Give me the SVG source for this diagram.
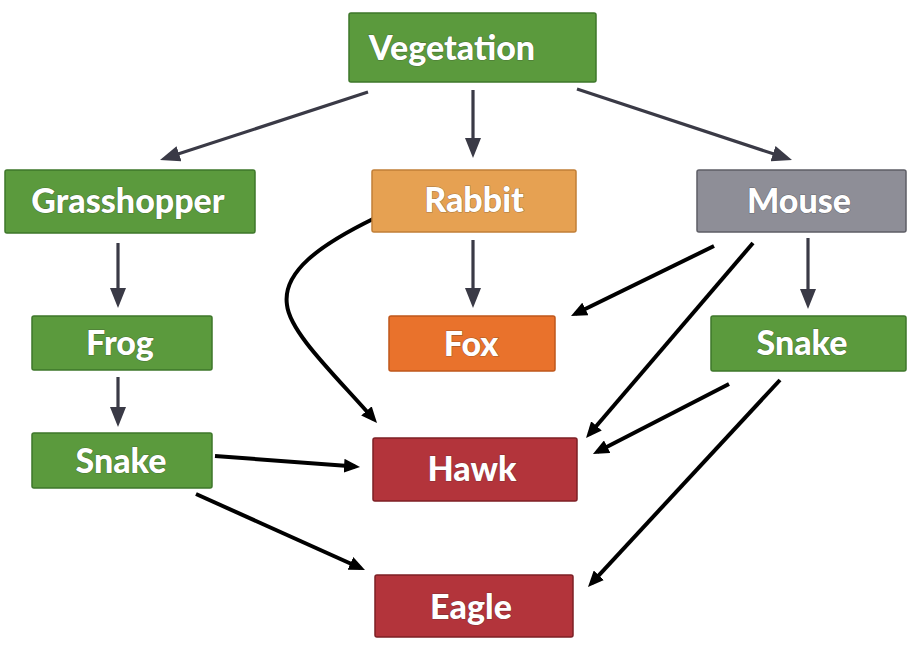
<svg xmlns="http://www.w3.org/2000/svg" width="919" height="653" viewBox="0 0 919 653">
<defs>
<style>
.box{stroke-width:1.5}
.green{fill:#5b9a3d;stroke:#3e772a}
.orange{fill:#e6a152;stroke:#c17f37}
.gray{fill:#8e8e97;stroke:#5e5e66}
.fox{fill:#e9722c;stroke:#bf571b}
.red{fill:#b3343b;stroke:#7d1f25}
.lbl{font-family:Lato,"Open Sans","DejaVu Sans",sans-serif;font-weight:900;font-size:34px;fill:#ffffff;text-anchor:middle;stroke:rgba(40,40,40,0.35);stroke-width:1.2px;paint-order:stroke}
.ga{fill:none;stroke:#3a3a46;stroke-width:3.2;marker-end:url(#gh)}
.ba{fill:none;stroke:#000000;stroke-width:4;marker-end:url(#bh)}
</style>
<marker id="gh" markerUnits="userSpaceOnUse" viewBox="0 0 20 16" markerWidth="20" markerHeight="16" refX="14" refY="8" orient="auto">
<path d="M0,0 L20,8 L0,16 z" fill="#3a3a46"/>
</marker>
<marker id="bh" markerUnits="userSpaceOnUse" viewBox="0 0 16 14" markerWidth="16" markerHeight="14" refX="11" refY="7" orient="auto">
<path d="M0,0 L16,7 L0,14 z" fill="#000000"/>
</marker>
</defs>
<rect width="919" height="653" fill="#ffffff"/>
<g id="connectors">
<line class="ga" x1="368" y1="92" x2="165.7" y2="158.1"/>
<line class="ga" x1="473" y1="90" x2="473" y2="152"/>
<line class="ga" x1="577" y1="89" x2="786.3" y2="158.1"/>
<line class="ga" x1="118" y1="243" x2="118" y2="302"/>
<line class="ga" x1="118" y1="377" x2="118" y2="421"/>
<line class="ga" x1="473" y1="240" x2="473" y2="302"/>
<line class="ga" x1="808" y1="238" x2="808" y2="303"/>
<path class="ba" d="M373,219 C320,245 282,272 287,305 C290,333 336,376 373.7,419.2"/>
<line class="ba" x1="714" y1="246" x2="575.5" y2="313.8"/>
<line class="ba" x1="753" y1="243" x2="589.3" y2="434.2"/>
<line class="ba" x1="729" y1="384" x2="597.4" y2="451.7"/>
<line class="ba" x1="780" y1="380" x2="591.4" y2="583.3"/>
<line class="ba" x1="215" y1="456" x2="355" y2="466.6"/>
<line class="ba" x1="196" y1="494" x2="360.4" y2="568"/>
</g>
<g id="vegetation"><rect class="box green" x="349" y="13" width="247" height="69" rx="2"/><text class="lbl" x="452" y="60">Vegetation</text></g>
<g id="grasshopper"><rect class="box green" x="5" y="170" width="250" height="63" rx="2"/><text class="lbl" x="128" y="213">Grasshopper</text></g>
<g id="rabbit"><rect class="box orange" x="372" y="170" width="204" height="62" rx="2"/><text class="lbl" x="474" y="212">Rabbit</text></g>
<g id="mouse"><rect class="box gray" x="697" y="170" width="209" height="62" rx="2"/><text class="lbl" x="799" y="213">Mouse</text></g>
<g id="frog"><rect class="box green" x="32" y="316" width="180" height="54" rx="2"/><text class="lbl" x="120" y="355">Frog</text></g>
<g id="fox"><rect class="box fox" x="389" y="316" width="166" height="55" rx="2"/><text class="lbl" x="471" y="356">Fox</text></g>
<g id="snake-right"><rect class="box green" x="711" y="316" width="195" height="55" rx="2"/><text class="lbl" x="802" y="355">Snake</text></g>
<g id="snake-left"><rect class="box green" x="32" y="433" width="180" height="55" rx="2"/><text class="lbl" x="121" y="473">Snake</text></g>
<g id="hawk"><rect class="box red" x="373" y="438" width="204" height="63" rx="2"/><text class="lbl" x="472" y="481">Hawk</text></g>
<g id="eagle"><rect class="box red" x="375" y="575" width="198" height="62" rx="2"/><text class="lbl" x="471" y="619">Eagle</text></g>
</svg>
